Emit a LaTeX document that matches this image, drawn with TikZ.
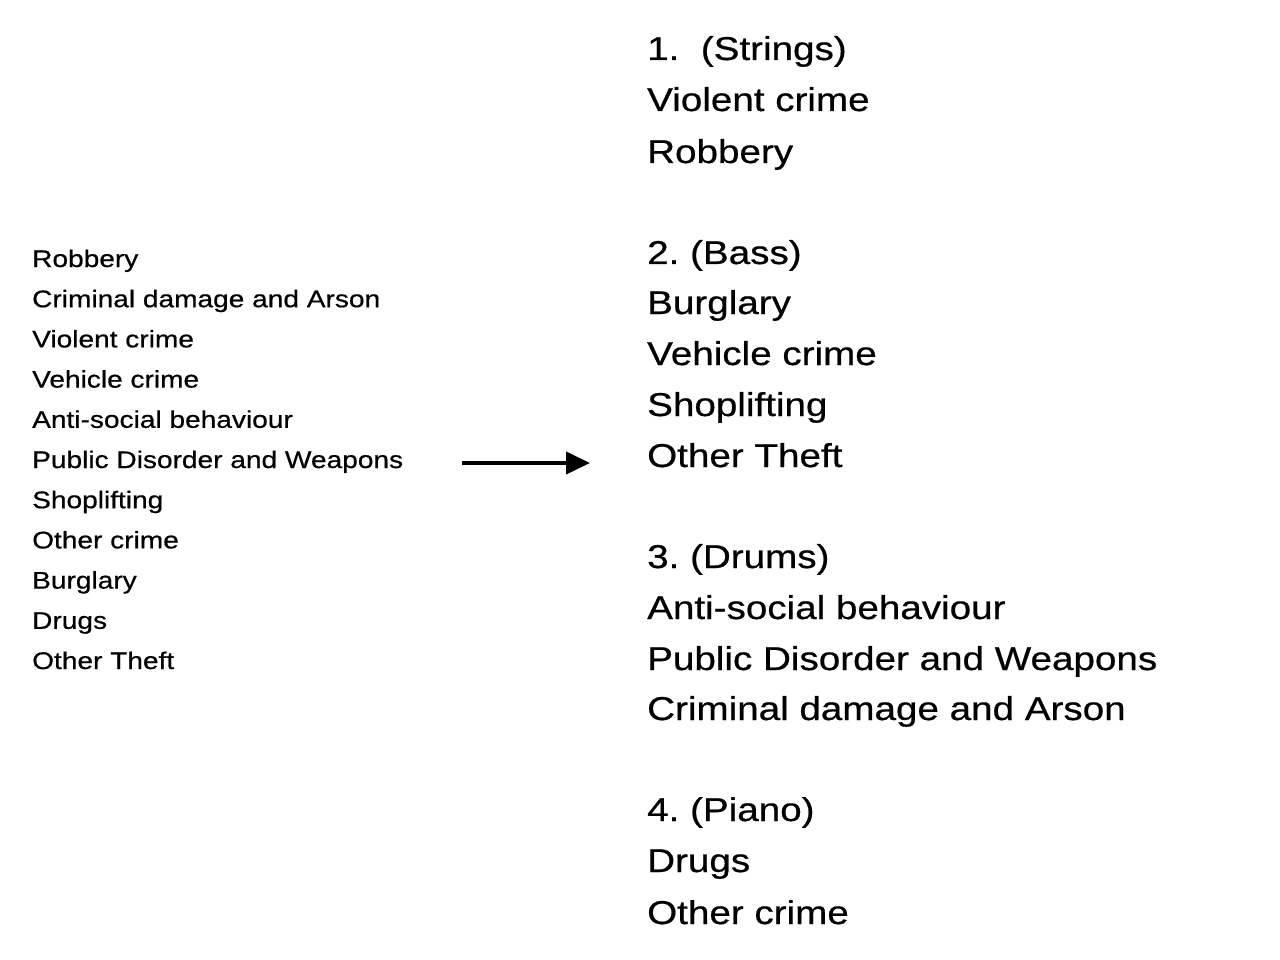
\documentclass[tikz,border=0pt]{standalone}
\usepackage{fontspec}
\setmainfont{Liberation Sans}[FakeStretch=1.17,FakeBold=0.6]
\usetikzlibrary{arrows.meta}
\begin{document}
\frenchspacing
\begin{tikzpicture}[x=1pt,y=-1pt,
  sm/.style={anchor=base west,inner sep=0pt,font=\fontsize{24}{28}\selectfont},
  lg/.style={anchor=base west,inner sep=0pt,font=\fontsize{33}{38}\selectfont}]
\useasboundingbox (0,0) rectangle (1280,960);
\foreach \t [count=\i] in {Robbery,Criminal damage and Arson,Violent crime,Vehicle crime,Anti-social behaviour,Public Disorder and Weapons,Shoplifting,Other crime,Burglary,Drugs,Other Theft}
  \node[sm] (l\i) at (32,{267+40.2*(\i-1)}) {\t};
\foreach \t/\y [count=\i] in {1.\ \ (Strings)/60,Violent crime/111,Robbery/163,
  2. (Bass)/264,Burglary/314,Vehicle crime/365,Shoplifting/416,Other Theft/467,
  3. (Drums)/568,Anti-social behaviour/619,Public Disorder and Weapons/670,Criminal damage and Arson/720,
  4. (Piano)/821,Drugs/872,Other crime/924}
  \node[lg] (r\i) at (647,\y) {\t};
\coordinate (a1) at (462,463);
\coordinate (a2) at (590,463);
\draw[line width=4pt,-{Triangle[length=24pt,width=22pt]}] (a1) -- (a2);
\end{tikzpicture}
\end{document}
